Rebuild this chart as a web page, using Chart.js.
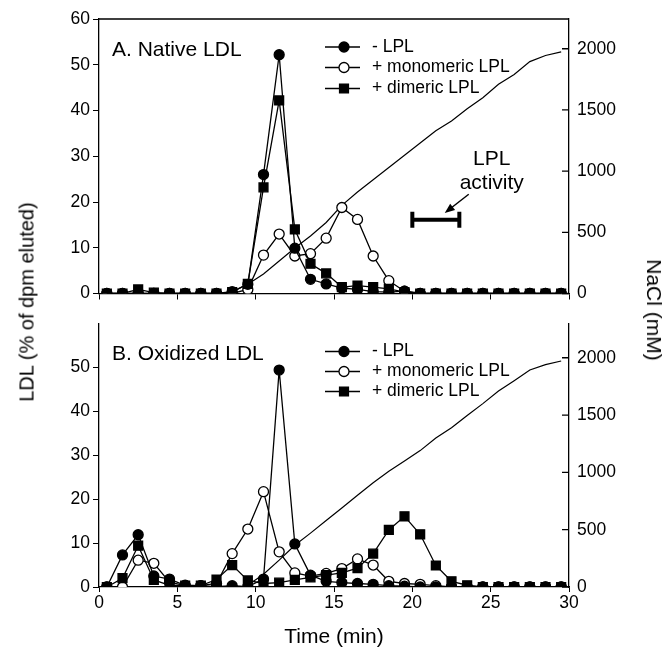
<!DOCTYPE html>
<html>
<head>
<meta charset="utf-8">
<script src="https://cdn.jsdelivr.net/npm/chart.js@4.4.0/dist/chart.umd.min.js"></script>
<style>
    body { margin: 0; background: #fff; width: 667px; height: 651px; position: relative; overflow: hidden; font-family: "Liberation Sans", Arial, sans-serif; }
    #wrapA { position: absolute; left: 0; top: 0; }
    #wrapB { position: absolute; left: 0; top: 305px; }
    .axisLabel { position: absolute; white-space: nowrap; color: #000; transform: translate(-50%, -50%) rotate(-90deg); }
    #ldlLabel { left: 27px; top: 302px; font-size: 20px; }
    #naclLabel { left: 654px; top: 310px; font-size: 21px; transform: translate(-50%, -50%) rotate(90deg); }
</style>
</head>
<body>
<div id="wrapA"><canvas id="nativeChart" width="667" height="312"></canvas></div>
<div id="wrapB"><canvas id="oxidizedChart" width="667" height="346"></canvas></div>
<div class="axisLabel" id="ldlLabel">LDL (% of dpm eluted)</div>
<div class="axisLabel" id="naclLabel">NaCl (mM)</div>
<script>
        const FONT = '"Liberation Sans", Arial, sans-serif';

        // fraction times (min)
        const times = [0.5, 1.5, 2.5, 3.5, 4.5, 5.5, 6.5, 7.5, 8.5, 9.5,
                       10.5, 11.5, 12.5, 13.5, 14.5, 15.5, 16.5, 17.5, 18.5, 19.5,
                       20.5, 21.5, 22.5, 23.5, 24.5, 25.5, 26.5, 27.5, 28.5, 29.5];

        // A. Native LDL
        const nativeNoLpl   = [0, 0, 0, 0, 0, 0, 0, 0, 0.4, 2, 26, 52.2, 9.9, 3.1, 2.1, 1.2, 0.9, 0.4, 0.3, 0.5, 0, 0, 0, 0, 0, 0, 0, 0, 0, 0];
        const nativeMonomer = [0, 0, 0, 0, 0, 0, 0, 0, 0, 0.9, 8.4, 13, 8.2, 8.7, 12.1, 18.8, 16.2, 8.2, 2.8, 0.5, 0, 0, 0, 0, 0, 0, 0, 0, 0, 0];
        const nativeDimer   = [0, 0, 0.9, 0.2, 0, 0, 0, 0, 0.3, 2.1, 23.2, 42.2, 14, 6.5, 4.4, 1.4, 1.7, 1.4, 1, 0.3, 0, 0, 0, 0, 0, 0, 0, 0, 0, 0];

        // B. Oxidized LDL
        const oxNoLpl   = [0, 7.3, 11.9, 2.5, 1.8, 0.4, 0.3, 0.1, 0.3, 0.1, 1.8, 49.4, 9.8, 2.7, 1.3, 1, 0.8, 0.6, 0.3, 0.2, 0, 0, 0, 0, 0, 0, 0, 0, 0, 0];
        const oxMonomer = [0, 0, 6.1, 5.4, 1.1, 0.3, 0.3, 0.8, 7.6, 13.2, 21.7, 8, 3.2, 2.5, 3.1, 4.2, 6.4, 5, 1.3, 0.8, 0.6, 0.3, 0, 0, 0, 0, 0, 0, 0, 0];
        const oxDimer   = [0, 2, 9.4, 1.6, 0.4, 0.3, 0.3, 1.7, 5, 1.5, 0.8, 1, 1.6, 2.2, 2.7, 3.2, 4.3, 7.6, 13, 16.1, 12, 4.9, 1.3, 0.4, 0, 0, 0, 0, 0, 0];

        // NaCl gradient (mM)
        const naclTimes = [9.5, 10.5, 11.5, 12.5, 13.5, 14.5, 15.5, 16.5, 17.5, 18.5, 19.5,
                           20.5, 21.5, 22.5, 23.5, 24.5, 25.5, 26.5, 27.5, 28.5, 29.5];
        const naclNative   = [75, 160, 265, 372, 470, 580, 720, 830, 930, 1030, 1130, 1230, 1330, 1410, 1510, 1600, 1710, 1790, 1895, 1945, 1975];
        const naclOxidized = [16, 112, 234, 364, 470, 580, 690, 800, 910, 1010, 1100, 1190, 1300, 1390, 1497, 1600, 1710, 1800, 1893, 1940, 1972];

        // LPL activity bar (min) and its level on the LDL axis
        const activityRange = [20, 23];
        const activityLevel = 16.1;

        // tick labels
        const timeTicks = [0, 5, 10, 15, 20, 25, 30];
        const ldlTicksA = [0, 10, 20, 30, 40, 50, 60];
        const ldlTicksB = [0, 10, 20, 30, 40, 50];
        const naclTicks = [0, 500, 1000, 1500, 2000];

        const legendLabels = ['- LPL', '+ monomeric LPL', '+ dimeric LPL'];

        function zip(xs, ys) {
            return xs.map((x, i) => ({ x: x, y: ys[i] }));
        }

        function series(label, ys, style, fill, radius, order) {
            return {
                label: label,
                data: zip(times, ys),
                borderColor: '#000',
                borderWidth: 1.3,
                pointStyle: style,
                pointRadius: radius,
                pointBackgroundColor: fill,
                pointBorderColor: '#000',
                pointBorderWidth: 1.3,
                tension: 0,
                order: order
            };
        }

        function naclLine(ys) {
            return {
                label: 'NaCl',
                data: zip(naclTimes, ys),
                yAxisID: 'y2',
                borderColor: '#000',
                borderWidth: 1.2,
                pointRadius: 0,
                tension: 0,
                order: 10
            };
        }

        function fixedTicks(list) {
            return function(scale) {
                scale.ticks = list.map(v => ({ value: v }));
            };
        }

        // plain numbers, no thousands separator
        function plain(value) {
            return String(value);
        }

        function buildScales(ldlMax, ldlTicks, naclMax, showTime) {
            return {
                x: {
                    type: 'linear', min: 0, max: 30,
                    afterBuildTicks: fixedTicks(timeTicks),
                    afterFit: function(s) { s.height = showTime ? 64 : 7; },
                    grid: { drawOnChartArea: false, tickLength: showTime ? 5 : 6, color: '#000', lineWidth: 1 },
                    border: { color: '#000', width: 1.3 },
                    ticks: { display: showTime, color: '#000', padding: 1, callback: plain, font: { family: FONT, size: 17.5 } },
                    title: { display: showTime, text: 'Time (min)', color: '#000', padding: { top: 0, bottom: 1.4 }, font: { family: FONT, size: 21 } }
                },
                y: {
                    position: 'left', min: 0, max: ldlMax,
                    afterBuildTicks: fixedTicks(ldlTicks),
                    afterFit: function(s) { s.width = 99; },
                    grid: { drawOnChartArea: false, tickLength: 6, color: '#000', lineWidth: 1 },
                    border: { color: '#000', width: 1.3 },
                    ticks: { color: '#000', padding: 3, callback: plain, font: { family: FONT, size: 17.5 } }
                },
                y2: {
                    position: 'right', min: 0, max: naclMax,
                    afterBuildTicks: fixedTicks(naclTicks),
                    afterFit: function(s) { s.width = 667 - 569; },
                    grid: { drawOnChartArea: false, drawTicks: false },
                    border: { color: '#000', width: 1.3 },
                    ticks: { color: '#000', padding: 8, callback: plain, font: { family: FONT, size: 17.5 } }
                }
            };
        }

        // Panel decorations: frame top, inward right ticks, panel title and legend
        function panelPlugin(title, rows, drawTop, extra) {
            return {
                id: 'panel',
                afterDatasetsDraw: function(chart) {
                    const ctx = chart.ctx;
                    const area = chart.chartArea;
                    const r = chart.scales.y2;
                    ctx.save();
                    ctx.strokeStyle = '#000';
                    ctx.fillStyle = '#000';
                    ctx.lineWidth = 1.3;
                    ctx.beginPath();
                    if (drawTop) {
                        ctx.moveTo(area.left, area.top);
                        ctx.lineTo(area.right, area.top);
                    }
                    r.ticks.forEach(t => {
                        const py = r.getPixelForValue(t.value);
                        ctx.moveTo(area.right - 7, py);
                        ctx.lineTo(area.right, py);
                    });
                    ctx.stroke();

                    ctx.font = '21px ' + FONT;
                    ctx.textBaseline = 'middle';
                    ctx.textAlign = 'left';
                    ctx.fillText(title, area.left + 13, area.top + 31);

                    // legend
                    const styles = [['circle', '#000', 5], ['circle', '#fff', 5], ['rect', '#000', 6.3]];
                    ctx.font = '17.5px ' + FONT;
                    legendLabels.forEach((lab, i) => {
                        const y = area.top + rows[i];
                        ctx.lineWidth = 1.3;
                        ctx.beginPath();
                        ctx.moveTo(area.left + 226, y);
                        ctx.lineTo(area.left + 261, y);
                        ctx.stroke();
                        ctx.fillStyle = styles[i][1];
                        Chart.helpers.drawPoint(ctx, { pointStyle: styles[i][0], radius: styles[i][2], borderWidth: 1.3, rotation: 0 }, area.left + 245, y);
                        ctx.fillStyle = '#000';
                        ctx.fillText(lab, area.left + 273, y);
                    });
                    if (extra) extra(chart, ctx);
                    ctx.restore();
                }
            };
        }

        // "LPL activity" note with arrow, placed in data units
        function activityNote(chart, ctx) {
            const x = chart.scales.x, y = chart.scales.y;
            ctx.fillStyle = '#000';
            ctx.font = '21px ' + FONT;
            ctx.textAlign = 'center';
            ctx.fillText('LPL', x.getPixelForValue(25.07), y.getPixelForValue(29.4));
            ctx.fillText('activity', x.getPixelForValue(25.07), y.getPixelForValue(24.1));

            const x0 = x.getPixelForValue(23.6), y0 = y.getPixelForValue(21.7);
            const x1 = x.getPixelForValue(22.07), y1 = y.getPixelForValue(17.6);
            const ang = Math.atan2(y1 - y0, x1 - x0);
            ctx.lineWidth = 1.5;
            ctx.beginPath();
            ctx.moveTo(x0, y0);
            ctx.lineTo(x1 - 6 * Math.cos(ang), y1 - 6 * Math.sin(ang));
            ctx.stroke();
            ctx.beginPath();
            ctx.moveTo(x1, y1);
            ctx.lineTo(x1 - 10 * Math.cos(ang) + 4 * Math.sin(ang), y1 - 10 * Math.sin(ang) - 4 * Math.cos(ang));
            ctx.lineTo(x1 - 10 * Math.cos(ang) - 4 * Math.sin(ang), y1 - 10 * Math.sin(ang) + 4 * Math.cos(ang));
            ctx.closePath();
            ctx.fill();
        }

        const commonOptions = {
            responsive: false,
            animation: false,
            layout: { padding: 0 },
            plugins: { legend: { display: false }, tooltip: { enabled: false } }
        };

        // Native LDL chart
        const nativeCtx = document.getElementById('nativeChart').getContext('2d');
        const nativeChart = new Chart(nativeCtx, {
            type: 'line',
            data: {
                datasets: [
                    series('- LPL', nativeNoLpl, 'circle', '#000', 5, 1),
                    series('+ dimeric LPL', nativeDimer, 'rect', '#000', 6.3, 2),
                    series('+ monomeric LPL', nativeMonomer, 'circle', '#fff', 5, 3),
                    naclLine(naclNative),
                    {
                        label: 'LPL activity',
                        data: zip(activityRange, [activityLevel, activityLevel]),
                        borderColor: '#000',
                        borderWidth: 4,
                        pointStyle: 'line',
                        rotation: 90,
                        pointRadius: 8,
                        pointBorderWidth: 4,
                        pointBorderColor: '#000',
                        order: 0
                    }
                ]
            },
            options: Object.assign({}, commonOptions, {
                layout: { padding: { top: 19 } },
                scales: buildScales(60, ldlTicksA, 2243, false)
            }),
            plugins: [panelPlugin('A. Native LDL', [28, 48.5, 69.5], true, activityNote)]
        });

        // Oxidized LDL chart
        const oxCtx = document.getElementById('oxidizedChart').getContext('2d');
        const oxidizedChart = new Chart(oxCtx, {
            type: 'line',
            data: {
                datasets: [
                    series('- LPL', oxNoLpl, 'circle', '#000', 5, 1),
                    series('+ dimeric LPL', oxDimer, 'rect', '#000', 6.3, 2),
                    series('+ monomeric LPL', oxMonomer, 'circle', '#fff', 5, 3),
                    naclLine(naclOxidized)
                ]
            },
            options: Object.assign({}, commonOptions, {
                scales: buildScales(60, ldlTicksB, 2299, true)
            }),
            plugins: [panelPlugin('B. Oxidized LDL', [28, 48, 68], false, null)]
        });
</script>
</body>
</html>
